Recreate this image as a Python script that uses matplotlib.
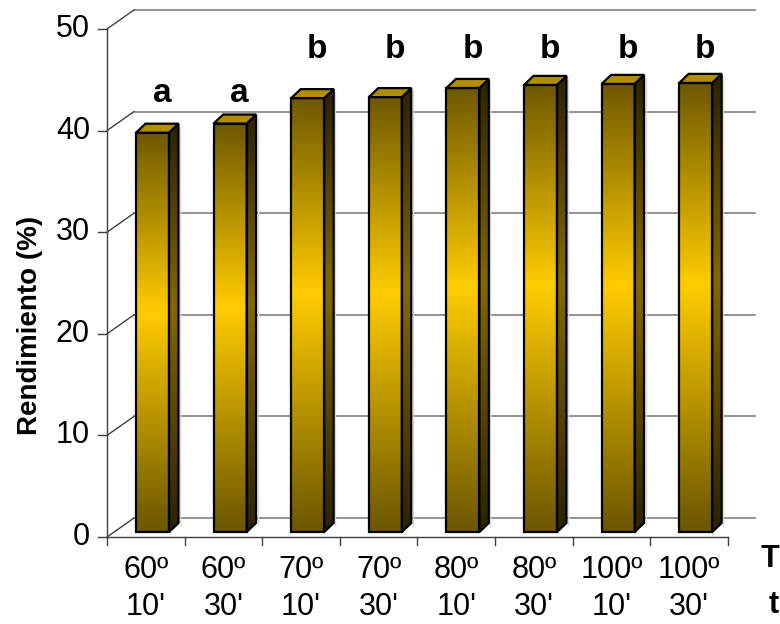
import numpy as np
import matplotlib
matplotlib.use('Agg')
import matplotlib.pyplot as plt
from matplotlib.patches import Polygon
from matplotlib.colors import LinearSegmentedColormap

plt.rcParams['font.family'] = ['Liberation Sans', 'DejaVu Sans']

# yield per treatment (temperature / time)
temps = ['60º', '60º', '70º', '70º', '80º', '80º', '100º', '100º']
times = ["10'", "30'", "10'", "30'", "10'", "30'", "10'", "30'"]
rendimiento = [39.3, 40.2, 42.7, 42.8, 43.7, 44.0, 44.1, 44.2]
letras = ['a', 'a', 'b', 'b', 'b', 'b', 'b', 'b']
yticks = [0, 10, 20, 30, 40, 50]

# pseudo-3d geometry in data units
wall_dx, wall_dy = 0.348, 1.87     # back wall offset
bar_dx, bar_dy = 0.122, 0.89       # bar depth
bar_left, bar_w = -0.126, 0.425    # front face relative to category centre
bar_base = 0.49

front_cmap = LinearSegmentedColormap.from_list(
    'front', [(0, '#6b5600'), (0.55, '#ffcc00'), (1, '#6e5800')])
side_cmap = LinearSegmentedColormap.from_list(
    'side', [(0, '#2a2200'), (0.55, '#846800'), (1, '#2a2200')])

fig = plt.figure(figsize=(7.8, 6.24), dpi=100)
ax = fig.add_axes([0, 0, 1, 1])
ax.axis('off')

n = len(rendimiento)
grad = np.linspace(0, 1, 256).reshape(-1, 1)
fs = 22

# back wall gridlines and left wall connectors
for v in yticks:
    ax.plot([-0.5 + wall_dx, n - 0.5 + wall_dx], [v + wall_dy, v + wall_dy],
            color='#808080', lw=1.2, zorder=1)
    ax.plot([-0.5, -0.5 + wall_dx], [v, v + wall_dy], color='#404040', lw=1.0, zorder=1)
    ax.plot([-0.5 - 0.11, -0.5], [v, v], color='#404040', lw=1.0, zorder=3)
    ax.text(-0.72, v, str(v), ha='right', va='center', fontsize=fs)

# front axes
ax.plot([-0.5, -0.5], [0, yticks[-1]], color='#404040', lw=1.0, zorder=3)
ax.plot([-0.5, n - 0.5], [0, 0], color='#404040', lw=1.0, zorder=3)
for k in range(n + 1):
    ax.plot([k - 0.5, k - 0.5], [0, -0.8], color='#404040', lw=1.0, zorder=3)

for i, v in enumerate(rendimiento):
    x0 = i + bar_left
    x1 = x0 + bar_w
    y0 = bar_base
    y1 = bar_base + v

    # front face with vertical gradient
    front = Polygon([(x0, y0), (x1, y0), (x1, y1), (x0, y1)], closed=True,
                    facecolor='none', edgecolor='black', lw=1.6, zorder=6)
    ax.add_patch(front)
    im = ax.imshow(grad, cmap=front_cmap, origin='lower', aspect='auto',
                   extent=[x0, x1, y0, y1], zorder=5)
    im.set_clip_path(front)

    # side face
    side = Polygon([(x1, y0), (x1 + bar_dx, y0 + bar_dy), (x1 + bar_dx, y1 + bar_dy), (x1, y1)],
                   closed=True, facecolor='none', edgecolor='black', lw=1.6, zorder=6)
    ax.add_patch(side)
    ims = ax.imshow(grad, cmap=side_cmap, origin='lower', aspect='auto',
                    extent=[x1, x1 + bar_dx, y0, y1 + bar_dy], zorder=5)
    ims.set_clip_path(side)
    ax.plot([x1 + bar_dx + 0.02, x1 + bar_dx + 0.02], [y0 + bar_dy - 0.2, y1 + bar_dy - 0.3],
            color='#d8d8d8', lw=1.0, zorder=4)

    # top face
    top = Polygon([(x0, y1), (x1, y1), (x1 + bar_dx, y1 + bar_dy), (x0 + bar_dx, y1 + bar_dy)],
                  closed=True, facecolor='#b08e00', edgecolor='black', lw=1.6, zorder=6)
    ax.add_patch(top)

    # significance letters
    ax.text(i + 0.21, 42.8 if letras[i] == 'a' else 47.15, letras[i],
            ha='center', va='baseline', fontsize=24, fontweight='bold')

    # category labels
    ax.text(i, -3.25, temps[i], ha='center', va='center', fontsize=fs)
    ax.text(i, -6.9, times[i], ha='center', va='center', fontsize=fs)

ax.text(7.92, -2.2, 'T', ha='left', va='center', fontsize=fs, fontweight='bold')
ax.text(8.02, -6.7, 't', ha='left', va='center', fontsize=fs, fontweight='bold')

ax.text(-1.49, 20.8, 'Rendimiento (%)', rotation=90, ha='center', va='center',
        fontsize=20, fontweight='bold')

ax.set_xlim(-1.879, 8.173)
ax.set_ylim(-8.56, 52.85)

plt.savefig('out.png', dpi=100)
